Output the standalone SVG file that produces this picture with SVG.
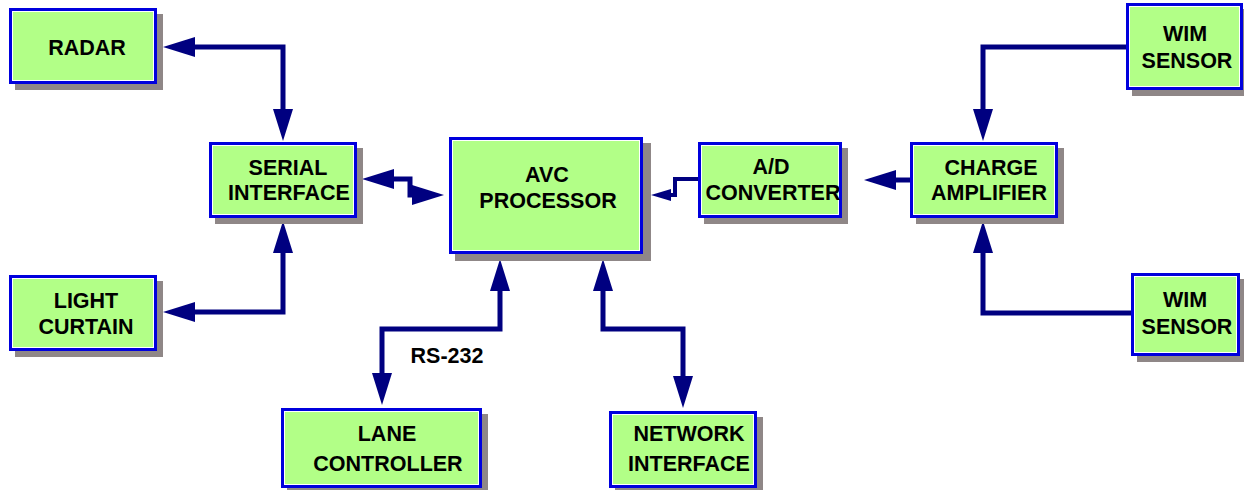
<svg xmlns="http://www.w3.org/2000/svg" width="1244" height="490" viewBox="0 0 1244 490">
<style>
.sh{fill:#8f8787}
.bx{fill:#b2ff87;stroke:#0000dd;stroke-width:3}
.in{fill:none;stroke:#ffffff;stroke-width:1}
text{font-family:"Liberation Sans",Arial,sans-serif;font-weight:bold;font-size:21.5px;fill:#000;text-anchor:middle}
.c{fill:none;stroke:#000080;stroke-width:5;stroke-linejoin:miter}
</style>
<defs>
<marker id="ah" markerUnits="userSpaceOnUse" viewBox="0 0 34 22" markerWidth="34" markerHeight="22" refX="0" refY="11" orient="auto-start-reverse"><path d="M0,1 L32,11 L0,21 Z" fill="#000080"/></marker>
<marker id="as" markerUnits="userSpaceOnUse" viewBox="0 0 22 14" markerWidth="22" markerHeight="14" refX="0" refY="7" orient="auto-start-reverse"><path d="M0,1 L20,7 L0,13 Z" fill="#000080"/></marker>
</defs>
<g id="connectors">
<path class="c" d="M195,47 H283 V109" marker-start="url(#ah)" marker-end="url(#ah)"/>
<path class="c" d="M195,312 H283 V253" marker-start="url(#ah)" marker-end="url(#ah)"/>
<path class="c" d="M394,179 H410 V195 H412" marker-start="url(#ah)" marker-end="url(#ah)"/>
<path class="c" style="stroke-width:4" d="M698,179 H675 V195 H671" marker-end="url(#as)"/>
<path class="c" d="M910,180 H896" marker-end="url(#ah)"/>
<path class="c" d="M1126,47 H983 V109" marker-end="url(#ah)"/>
<path class="c" d="M1131,313 H983 V253" marker-end="url(#ah)"/>
<path class="c" d="M500,291 V329 H382 V373" marker-start="url(#ah)" marker-end="url(#ah)"/>
<path class="c" d="M603,291 V329 H683 V376" marker-start="url(#ah)" marker-end="url(#ah)"/>
</g>
<g id="radar">
<rect class="sh" x="15" y="14" width="148" height="76"/>
<rect class="bx" x="10.5" y="9.5" width="145" height="73"/>
<rect class="in" x="12.5" y="11.5" width="141" height="69"/>
<text x="87" y="55">RADAR</text>
</g>
<g id="serial">
<rect class="sh" x="215" y="148" width="148" height="76"/>
<rect class="bx" x="210.5" y="143.5" width="145" height="73"/>
<rect class="in" x="212.5" y="145.5" width="141" height="69"/>
<text x="288" y="175">SERIAL</text>
<text x="289" y="200">INTERFACE</text>
</g>
<g id="light">
<rect class="sh" x="15" y="281" width="148" height="76"/>
<rect class="bx" x="10.5" y="276.5" width="145" height="73"/>
<rect class="in" x="12.5" y="278.5" width="141" height="69"/>
<text x="86" y="308">LIGHT</text>
<text x="86" y="334">CURTAIN</text>
</g>
<g id="avc">
<rect class="sh" x="455" y="143" width="196" height="118"/>
<rect class="bx" x="450.5" y="138.5" width="191" height="114"/>
<rect class="in" x="452.5" y="140.5" width="187" height="110"/>
<text x="547" y="182">AVC</text>
<text x="548" y="208">PROCESSOR</text>
</g>
<g id="adc">
<rect class="sh" x="704" y="148" width="144" height="76"/>
<rect class="bx" x="699.5" y="143.5" width="141" height="73"/>
<rect class="in" x="701.5" y="145.5" width="137" height="69"/>
<text x="771" y="174">A/D</text>
<text x="773" y="200">CONVERTER</text>
</g>
<g id="charge">
<rect class="sh" x="916" y="148" width="148" height="76"/>
<rect class="bx" x="911.5" y="143.5" width="145" height="73"/>
<rect class="in" x="913.5" y="145.5" width="141" height="69"/>
<text x="991" y="175">CHARGE</text>
<text x="989" y="200">AMPLIFIER</text>
</g>
<g id="wim1">
<rect class="sh" x="1132" y="9" width="117" height="87"/>
<rect class="bx" x="1127.5" y="4.5" width="114" height="84"/>
<rect class="in" x="1129.5" y="6.5" width="110" height="80"/>
<text x="1185" y="41">WIM</text>
<text x="1187" y="68">SENSOR</text>
</g>
<g id="wim2">
<rect class="sh" x="1137" y="279" width="109" height="83"/>
<rect class="bx" x="1132.5" y="274.5" width="106" height="80"/>
<rect class="in" x="1134.5" y="276.5" width="102" height="76"/>
<text x="1185" y="307">WIM</text>
<text x="1187" y="334">SENSOR</text>
</g>
<g id="lane">
<rect class="sh" x="287" y="414" width="201" height="80"/>
<rect class="bx" x="282.5" y="409.5" width="198" height="77"/>
<rect class="in" x="284.5" y="411.5" width="194" height="73"/>
<text x="387" y="441">LANE</text>
<text x="388" y="471">CONTROLLER</text>
</g>
<g id="network">
<rect class="sh" x="615" y="417" width="148" height="77"/>
<rect class="bx" x="610.5" y="412.5" width="145" height="74"/>
<rect class="in" x="612.5" y="414.5" width="141" height="70"/>
<text x="689" y="441">NETWORK</text>
<text x="689" y="471">INTERFACE</text>
</g>
<text id="rs232" x="447" y="363">RS-232</text>
</svg>
